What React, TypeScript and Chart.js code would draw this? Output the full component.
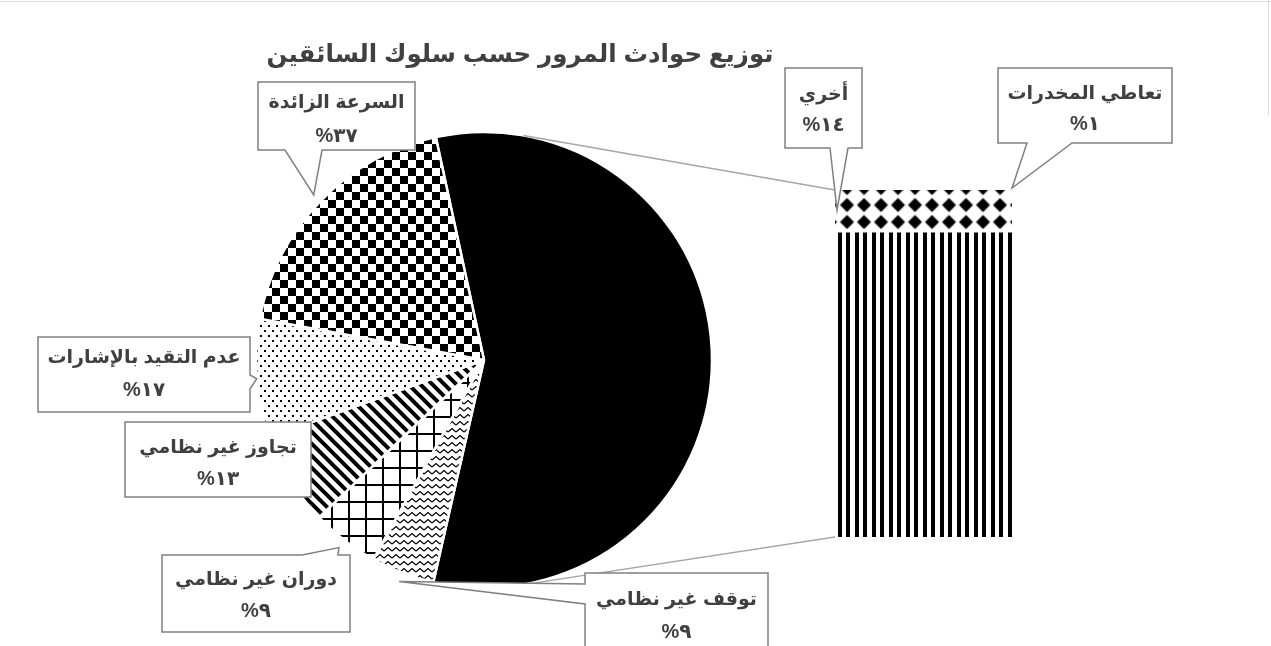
import React, { useEffect, useRef } from 'react';
import { Chart, registerables } from 'chart.js';

Chart.register(...registerables);

// ---------- data ----------
const chartTitle = 'توزيع حوادث المرور حسب سلوك السائقين';
const pieCategories = ['أخري', 'توقف غير نظامي', 'دوران غير نظامي', 'تجاوز غير نظامي', 'عدم التقيد بالإشارات', 'السرعة الزائدة'];
const pieValues = [56.9, 4.5, 4.8, 6.6, 8.4, 18.7];
const pieLabelPercents = ['', '٩', '٩', '١٣', '١٧', '٣٧'];
const barCategories = ['أخري', 'تعاطي المخدرات'];
const barValues = [88.5, 11.5];
const barLabelPercents = ['١٤', '١'];

// ---------- layout / styles ----------
const W = 1271;
const H = 646;
const FONT = "Arial, 'Liberation Sans', 'DejaVu Sans', sans-serif";
const TEXT = '#404040';
const BOX_STROKE = '#808080';

type Box = { x: number; y: number; w: number; h: number; side: 'top' | 'bottom' | 'left' | 'right'; b0: number; b1: number; l1: number; l2: number; tf?: number };

// callout boxes for pie slices (index aligned with pieCategories)
const pieBoxes: (Box | null)[] = [
  null,
  { x: 585, y: 573, w: 183, h: 85, side: 'left', b0: 584, b1: 604, l1: 600, l2: 632 },
  { x: 162, y: 555, w: 188, h: 77, side: 'top', b0: 302, b1: 338, l1: 580, l2: 611 },
  { x: 125, y: 422, w: 186, h: 75, side: 'right', b0: 470, b1: 490, l1: 448, l2: 479 },
  { x: 38, y: 337, w: 212, h: 75, side: 'right', b0: 375, b1: 389, l1: 358, l2: 390, tf: 1.0 },
  { x: 258, y: 82, w: 157, h: 68, side: 'bottom', b0: 285, b1: 322, l1: 103, l2: 136 },
];
const barBoxes: Box[] = [
  { x: 785, y: 68, w: 77, h: 80, side: 'bottom', b0: 830, b1: 848, l1: 95, l2: 125 },
  { x: 998, y: 68, w: 174, h: 75, side: 'bottom', b0: 1027, b1: 1072, l1: 94, l2: 124 },
];

function tile(w: number, h: number, draw: (g: CanvasRenderingContext2D) => void) {
  const c = document.createElement('canvas');
  c.width = w;
  c.height = h;
  const g = c.getContext('2d')!;
  g.fillStyle = '#fff';
  g.fillRect(0, 0, w, h);
  g.fillStyle = '#000';
  g.strokeStyle = '#000';
  draw(g);
  return c;
}

function pat(ctx: CanvasRenderingContext2D, t: HTMLCanvasElement, tx = 0, ty = 0) {
  const p = ctx.createPattern(t, 'repeat')!;
  if (tx || ty) p.setTransform(new DOMMatrix([1, 0, 0, 1, tx, ty]));
  return p;
}

function drawCallout(ctx: CanvasRenderingContext2D, b: Box, tip: { x: number; y: number }, line1: string, line2: string) {
  const inside = tip.x >= b.x && tip.x <= b.x + b.w && tip.y >= b.y && tip.y <= b.y + b.h;
  const { x, y, w, h } = b;
  ctx.save();
  ctx.beginPath();
  ctx.moveTo(x, y);
  if (!inside && b.side === 'top') { ctx.lineTo(b.b0, y); ctx.lineTo(tip.x, tip.y); ctx.lineTo(b.b1, y); }
  ctx.lineTo(x + w, y);
  if (!inside && b.side === 'right') { ctx.lineTo(x + w, b.b0); ctx.lineTo(tip.x, tip.y); ctx.lineTo(x + w, b.b1); }
  ctx.lineTo(x + w, y + h);
  if (!inside && b.side === 'bottom') { ctx.lineTo(b.b1, y + h); ctx.lineTo(tip.x, tip.y); ctx.lineTo(b.b0, y + h); }
  ctx.lineTo(x, y + h);
  if (!inside && b.side === 'left') { ctx.lineTo(x, b.b1); ctx.lineTo(tip.x, tip.y); ctx.lineTo(x, b.b0); }
  ctx.closePath();
  ctx.fillStyle = '#fff';
  ctx.fill();
  ctx.lineWidth = 1.5;
  ctx.strokeStyle = BOX_STROKE;
  ctx.lineJoin = 'miter';
  ctx.stroke();
  ctx.fillStyle = TEXT;
  ctx.font = `bold 19px ${FONT}`;
  ctx.textAlign = 'center';
  ctx.textBaseline = 'middle';
  ctx.direction = 'rtl';
  ctx.fillText(line1, x + w / 2, b.l1);
  ctx.direction = 'ltr';
  ctx.font = `bold 20px ${FONT}`;
  ctx.fillText(line2, x + w / 2, b.l2);
  ctx.restore();
}

export default function App() {
  const pieRef = useRef<HTMLCanvasElement>(null);
  const barRef = useRef<HTMLCanvasElement>(null);

  useEffect(() => {
    const pc = pieRef.current!;
    const bc = barRef.current!;
    const pctx = pc.getContext('2d')!;
    const bctx = bc.getContext('2d')!;

    const checker = tile(16, 16, (g) => { g.fillRect(0, 0, 8, 8); g.fillRect(8, 8, 8, 8); });
    const dots = tile(8, 10, (g) => { g.fillRect(0, 0, 2, 2); g.fillRect(4, 5, 2, 2); });
    const diag = tile(12, 12, (g) => {
      g.lineWidth = 4;
      for (let k = -1; k <= 1; k++) { g.beginPath(); g.moveTo(-2, -2 + k * 12); g.lineTo(14, 14 + k * 12); g.stroke(); }
    });
    const grid = tile(17, 17, (g) => { g.fillRect(0, 8, 17, 2); g.fillRect(8, 0, 2, 17); });
    const wavy = tile(8, 7, (g) => {
      g.lineWidth = 1.3;
      g.beginPath(); g.moveTo(0, 5); g.lineTo(4, 1.5); g.lineTo(8, 5); g.stroke();
    });
    const diamonds = tile(17, 17, (g) => {
      g.beginPath(); g.moveTo(8.5, 1.5); g.lineTo(15.5, 8.5); g.lineTo(8.5, 15.5); g.lineTo(1.5, 8.5); g.closePath(); g.fill();
    });
    const vstripes = tile(17, 4, (g) => { g.fillRect(0, 0, 4, 4); g.fillRect(8, 0, 4, 4); });

    const titlePlugin = {
      id: 'titleDraw',
      afterDraw(chart: any) {
        const ctx = chart.ctx;
        ctx.save();
        ctx.strokeStyle = '#d9d9d9';
        ctx.lineWidth = 1;
        ctx.beginPath();
        ctx.moveTo(0, 1.5); ctx.lineTo(W, 1.5);
        ctx.moveTo(1268.5, 0); ctx.lineTo(1268.5, 115);
        ctx.stroke();
        ctx.fillStyle = TEXT;
        ctx.font = `bold 24.5px ${FONT}`;
        ctx.textAlign = 'center';
        ctx.textBaseline = 'middle';
        ctx.direction = 'rtl';
        ctx.fillText(chartTitle, 520, 55);
        ctx.restore();
      },
    };

    const pie = new Chart(pc, {
      type: 'pie',
      data: {
        labels: pieCategories,
        datasets: [{
          data: pieValues,
          backgroundColor: ['#000', pat(pctx, wavy), pat(pctx, grid), pat(pctx, diag), pat(pctx, dots), pat(pctx, checker)],
          borderColor: '#fff',
          borderWidth: 2.5,
        }],
      },
      options: {
        responsive: false,
        animation: false,
        events: [],
        rotation: -12.2,
        radius: 228,
        layout: { padding: { left: 256, right: W - 712, top: 132, bottom: H - 588 } },
        plugins: { legend: { display: false }, tooltip: { enabled: false }, title: { display: false } },
      } as any,
      plugins: [titlePlugin],
    });

    const overlayPlugin = {
      id: 'overlay',
      afterDraw(chart: any) {
        const ctx = chart.ctx as CanvasRenderingContext2D;
        const pm = pie.getDatasetMeta(0);
        const arcs = pm.data as any[];
        const cx = arcs[0].x;
        const cy = arcs[0].y;
        const R = arcs[0].outerRadius;
        const bm0 = chart.getDatasetMeta(0).data[0] as any;
        const bm1 = chart.getDatasetMeta(1).data[0] as any;
        const left = bm1.x - bm1.width / 2;
        const right = bm1.x + bm1.width / 2;
        const top = bm1.y;
        const bottom = bm0.base;

        const tangent = (px: number, py: number, sign: number) => {
          const d = Math.hypot(px - cx, py - cy);
          const phi = Math.atan2(py - cy, px - cx);
          const a = phi + sign * Math.acos(R / d);
          return { x: cx + Math.cos(a) * R, y: cy + Math.sin(a) * R };
        };
        ctx.save();
        ctx.strokeStyle = '#a6a6a6';
        ctx.lineWidth = 1.5;
        const t1 = tangent(left, top, -1);
        const t2 = tangent(left, bottom, 1);
        ctx.beginPath();
        ctx.moveTo(t1.x, t1.y); ctx.lineTo(left, top);
        ctx.moveTo(t2.x, t2.y); ctx.lineTo(left, bottom);
        ctx.stroke();
        ctx.restore();

        pieBoxes.forEach((b, i) => {
          if (!b) return;
          const a = arcs[i];
          const mid = (a.startAngle + a.endAngle) / 2;
          const f = b.tf ?? 1.04;
          const tip = { x: cx + Math.cos(mid) * R * f, y: cy + Math.sin(mid) * R * f };
          drawCallout(ctx, b, tip, pieCategories[i], '%' + pieLabelPercents[i]);
        });
        const barTips = [
          { x: left + 2, y: (top + bm0.y) / 2 },
          { x: right, y: top - 2 },
        ];
        barBoxes.forEach((b, i) => {
          drawCallout(ctx, b, barTips[i], barCategories[i], '%' + barLabelPercents[i]);
        });
      },
    };

    const bar = new Chart(bc, {
      type: 'bar',
      data: {
        labels: ['أخري'],
        datasets: [
          {
            label: barCategories[0],
            data: [barValues[0]],
            backgroundColor: pat(bctx, vstripes, 5, 0),
            borderColor: '#fff',
            borderWidth: { top: 3, left: 0, right: 0, bottom: 0 },
            borderSkipped: false,
            barPercentage: 1,
            categoryPercentage: 1,
          },
          {
            label: barCategories[1],
            data: [barValues[1]],
            backgroundColor: pat(bctx, diamonds, 5.5, 9.5),
            borderWidth: 0,
            barPercentage: 1,
            categoryPercentage: 1,
          },
        ],
      },
      options: {
        responsive: false,
        animation: false,
        events: [],
        layout: { padding: { left: 835, right: W - 1012, top: 190, bottom: H - 537 } },
        scales: {
          x: { stacked: true, display: false },
          y: { stacked: true, display: false, min: 0, max: 100 },
        },
        plugins: { legend: { display: false }, tooltip: { enabled: false } },
      } as any,
      plugins: [overlayPlugin],
    });

    return () => {
      bar.destroy();
      pie.destroy();
    };
  }, []);

  const cstyle: React.CSSProperties = { position: 'absolute', left: 0, top: 0, width: W, height: H };
  return (
    <div style={{ position: 'fixed', left: 0, top: 0, width: W, height: H, background: '#fff', overflow: 'hidden' }}>
      <canvas ref={pieRef} width={W} height={H} style={cstyle} />
      <canvas ref={barRef} width={W} height={H} style={cstyle} />
    </div>
  );
}
